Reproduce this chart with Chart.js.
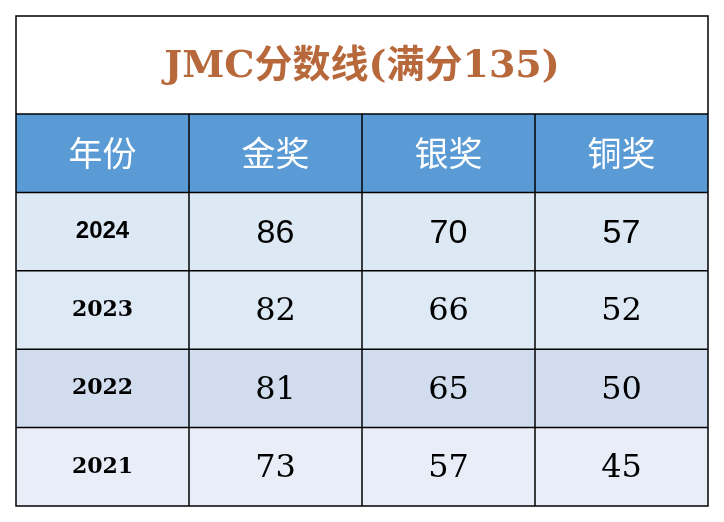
<!DOCTYPE html>
<html><head><meta charset="utf-8">
<script src="https://cdn.jsdelivr.net/npm/chart.js@4/dist/chart.umd.min.js"></script>
<style>html,body{margin:0;padding:0;background:#fff}#w{width:724px;height:522px}</style>
</head><body><div id="w"><canvas id="c"></canvas></div>
<script>
const title = "JMC分数线(满分135)";
const headers = ["年份","金奖","银奖","铜奖"];
const years = ["2024","2023","2022","2021"];
const gold = [86,82,81,73];
const silver = [70,66,65,57];
const bronze = [57,52,50,45];
const rowColors = ["#DCE8F4","#DDEAF6","#D1DDEF","#E9EDF8"];

const tablePlugin = {
  id:'table',
  afterDraw(chart){
    const ctx = chart.ctx, x = chart.scales.x, y = chart.scales.y;
    const colL = i => x.getPixelForValue(i-0.5), colR = i => x.getPixelForValue(i+0.5);
    const L = colL(0), R = colR(3);
    const rowT = r => y.getPixelForValue(r===0?0:0.25+r), rowB = r => y.getPixelForValue(r===0?1.25:1.25+r);
    ctx.save();
    ctx.fillStyle="#fff"; ctx.fillRect(L,rowT(0),R-L,rowB(0)-rowT(0));
    ctx.fillStyle="#5B9BD5"; ctx.fillRect(L,rowT(1),R-L,rowB(1)-rowT(1));
    years.forEach((_,i)=>{ctx.fillStyle=rowColors[i]; ctx.fillRect(L,rowT(i+2),R-L,rowB(i+2)-rowT(i+2));});
    ctx.textAlign="center"; ctx.textBaseline="middle";
    ctx.fillStyle="#B8693C"; ctx.font="bold 38px 'DejaVu Serif','Noto Sans CJK SC'";
    ctx.fillText(title,(L+R)/2,(rowT(0)+rowB(0))/2+2);
    ctx.fillStyle="#fff"; ctx.font="34px 'Noto Sans CJK SC'";
    headers.forEach((h,i)=>ctx.fillText(h,(colL(i)+colR(i))/2,(rowT(1)+rowB(1))/2));
    years.forEach((yr,r)=>{
      const cy=(rowT(r+2)+rowB(r+2))/2, vals=[gold[r],silver[r],bronze[r]];
      ctx.fillStyle="#000";
      ctx.font = r===0 ? "bold 24px 'Liberation Sans'" : "bold 22px 'DejaVu Serif'";
      ctx.fillText(yr,(colL(0)+colR(0))/2,cy);
      ctx.font = r===0 ? "34px 'Liberation Sans'" : "32px 'DejaVu Serif'";
      vals.forEach((v,c)=>ctx.fillText(String(v),(colL(c+1)+colR(c+1))/2,cy+2));
    });
    ctx.strokeStyle="#000"; ctx.lineWidth=1.5;
    ctx.strokeRect(L,rowT(0),R-L,rowB(5)-rowT(0));
    for(let r=1;r<=5;r++){ctx.beginPath();ctx.moveTo(L,rowT(r));ctx.lineTo(R,rowT(r));ctx.stroke();}
    for(let c=1;c<=3;c++){ctx.beginPath();ctx.moveTo(colL(c),rowT(1));ctx.lineTo(colL(c),rowB(5));ctx.stroke();}
    ctx.restore();
  }
};

new Chart(document.getElementById('c'),{
  type:'bar',
  data:{labels:headers,datasets:[{data:[0,0,0,0],backgroundColor:'rgba(0,0,0,0)'}]},
  options:{responsive:true,maintainAspectRatio:false,animation:false,
    layout:{padding:{left:16,right:16,top:16,bottom:16}},
    plugins:{legend:{display:false},tooltip:{enabled:false}},
    scales:{x:{display:false,offset:true},y:{type:'linear',display:false,min:0,max:6.25,reverse:true}}},
  plugins:[tablePlugin]
});
</script></body></html>
